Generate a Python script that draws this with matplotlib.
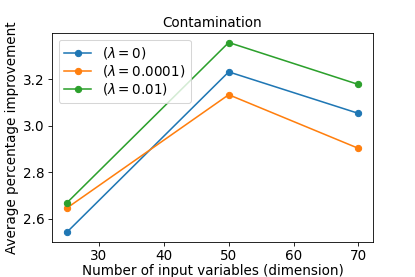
import matplotlib
matplotlib.use("Agg")
import matplotlib.pyplot as plt

dims = [25, 50, 70]
lam_0 = [2.542, 3.231, 3.053]
lam_1e4 = [2.646, 3.133, 2.903]
lam_1e2 = [2.668, 3.357, 3.177]
labels = [r"($\lambda = 0$)", r"($\lambda = 0.0001$)", r"($\lambda = 0.01$)"]

plt.rcParams["font.size"] = 13

dpi = 75
fig = plt.figure(figsize=(415 / dpi, 277 / dpi), dpi=dpi)
ax = fig.add_axes([52 / 415, 35 / 277, 321 / 415, 209 / 277])

for series, label in zip([lam_0, lam_1e4, lam_1e2], labels):
    ax.plot(dims, series, marker="o", label=label)

ax.set_yticks([2.6, 2.8, 3.0, 3.2])
ax.set_title("Contamination", fontsize=13)
ax.set_xlabel("Number of input variables (dimension)", labelpad=0.5)
ax.set_ylabel("Average percentage improvement")
ax.legend(loc="upper left", labelspacing=0.15)

fig.savefig("out.png", dpi=dpi)
